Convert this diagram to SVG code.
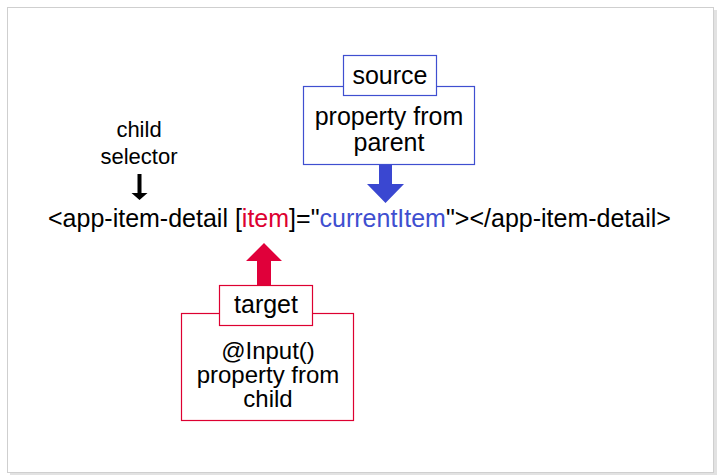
<svg xmlns="http://www.w3.org/2000/svg" width="720" height="476" viewBox="0 0 720 476">
<defs>
<style>
text{font-family:"Liberation Sans",Arial,sans-serif;fill:#000;}
.t{font-size:25px;text-anchor:middle;}
.u{font-size:24px;text-anchor:middle;}
.s{font-size:22px;text-anchor:middle;}
.blue{fill:none;stroke:#3f4fd0;stroke-width:1.2;}
.red{fill:none;stroke:#dd0031;stroke-width:1.2;}
</style>
</defs>
<rect x="0" y="0" width="720" height="476" fill="#fff"/>
<rect x="10" y="10" width="707" height="465" fill="#e2e2e2"/>
<rect x="7.5" y="7.5" width="706" height="465" fill="#fff" stroke="#cfcfcf" stroke-width="1"/>

<g id="connectors">
<path id="arrow-source" d="M379 164 V184 H367 L385.5 203 L404 184 H392 V164 Z" fill="#3a47d1"/>
<path id="arrow-target" d="M257 285 V261 H246 L264 243 L282 261 H271 V285 Z" fill="#e0003a"/>
<path id="arrow-child" d="M137.5 174 V193 H131.5 L139.5 200 L147.5 193 H141.5 V174 Z" fill="#000"/>
</g>

<g id="source">
<rect class="blue" x="303.5" y="86.5" width="171" height="78" fill="#fff"/>
<rect class="blue" x="343.5" y="55.5" width="93" height="40" style="fill:#fff"/>
<text class="t" x="390" y="84">source</text>
<text class="t" x="389" y="125">property from</text>
<text class="t" x="389" y="151">parent</text>
</g>

<g id="target">
<rect class="red" x="181.5" y="313.5" width="172" height="107"/>
<rect class="red" x="219.5" y="285.5" width="93" height="40" style="fill:#fff"/>
<text class="t" x="266" y="313">target</text>
<text class="u" x="268" y="359">@Input()</text>
<text class="u" x="268" y="383">property from</text>
<text class="u" x="268" y="407">child</text>
</g>

<g id="child-selector">
<text class="s" x="139" y="137">child</text>
<text class="s" x="139" y="164">selector</text>
</g>

<g id="code">
<text x="48" y="227" style="font-size:25px">&lt;app-item-detail [<tspan style="fill:#dd0031">item</tspan>]="<tspan style="fill:#3f4fd0">currentItem</tspan>"&gt;&lt;/app-item-detail&gt;</text>
</g>
</svg>
